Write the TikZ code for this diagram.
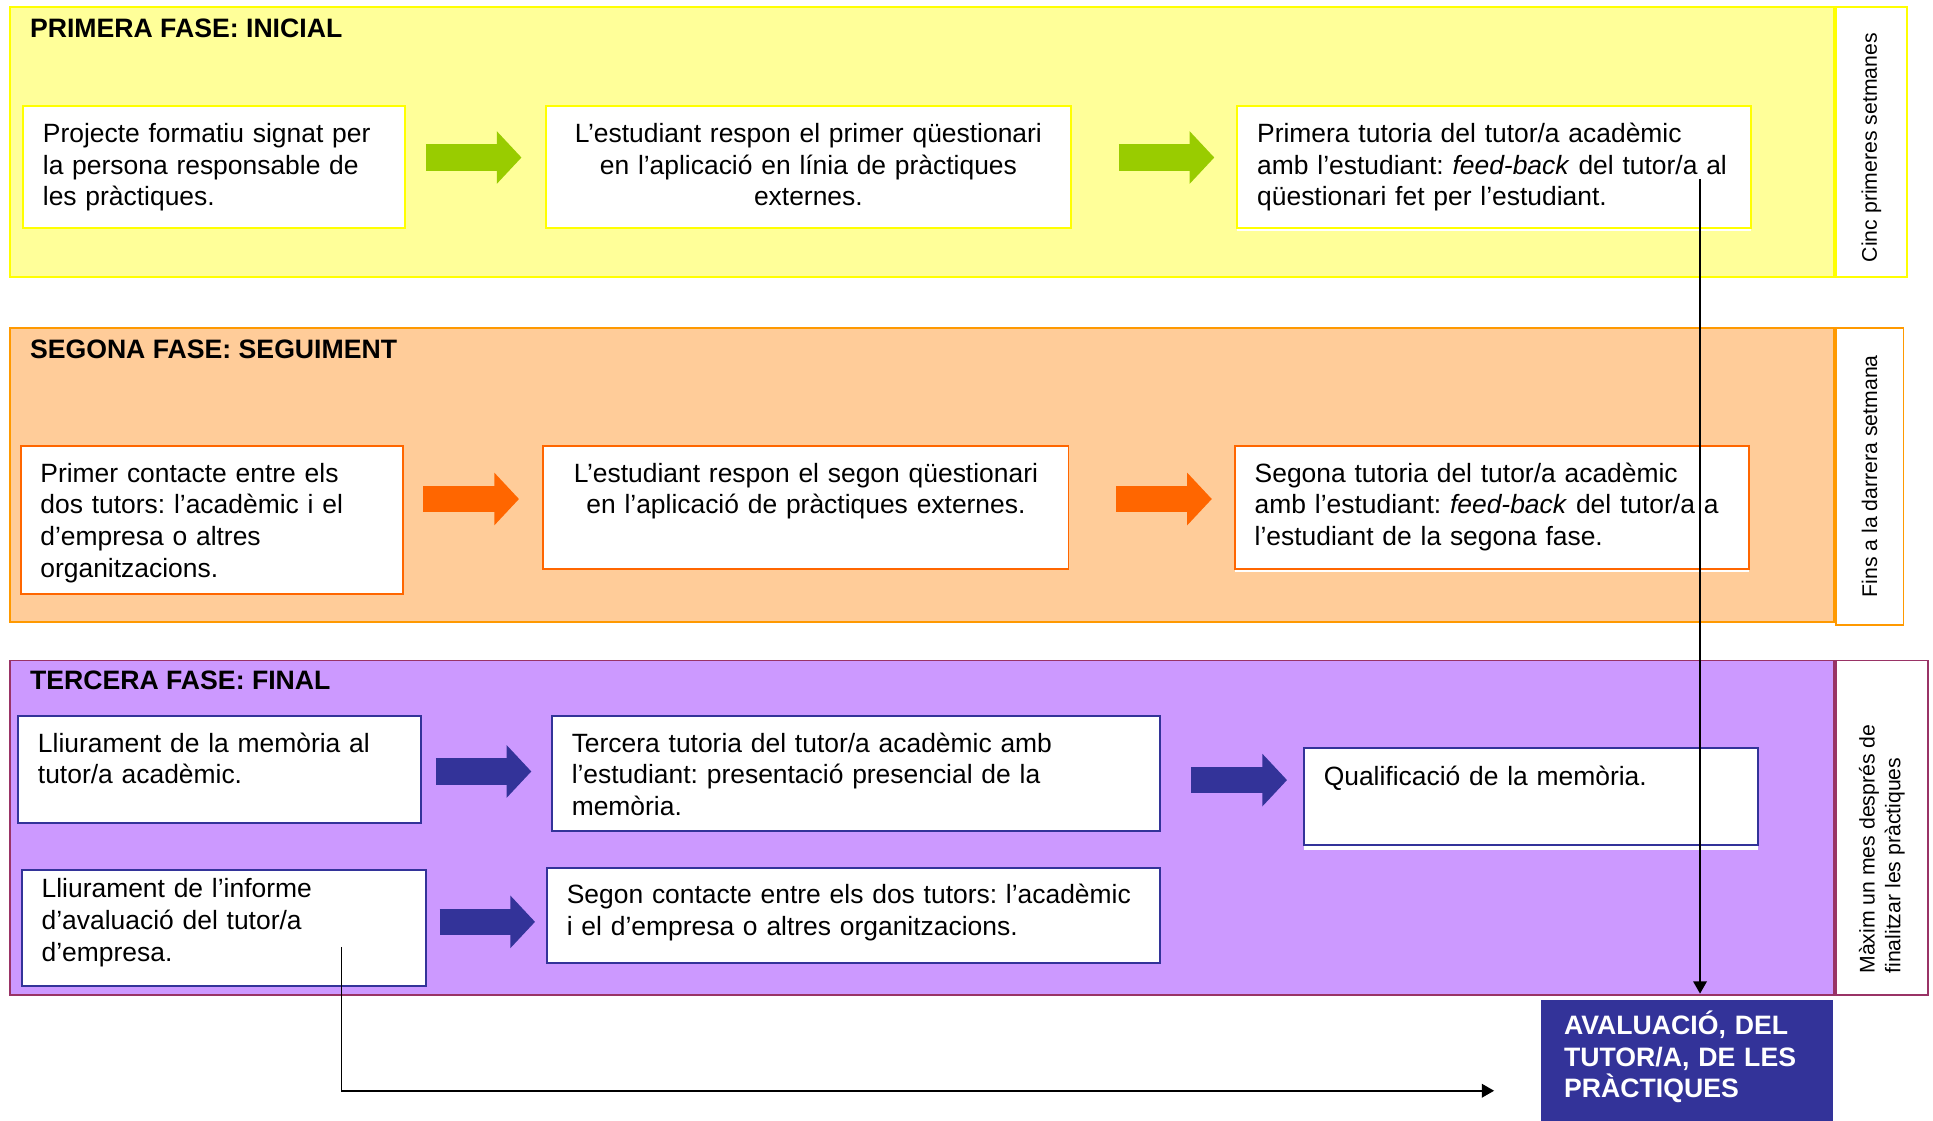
\documentclass[tikz,border=0pt]{standalone}
\usepackage{fontspec}
\setmainfont{Liberation Sans}
\usetikzlibrary{arrows.meta,positioning,shadows}
\definecolor{grocfons}{HTML}{FFFF99}
\definecolor{groc}{HTML}{FFFF00}
\definecolor{taronjafons}{HTML}{FFCC99}
\definecolor{taronjavora}{HTML}{FF9900}
\definecolor{taronja}{HTML}{FF6600}
\definecolor{lilafons}{HTML}{CC99FF}
\definecolor{granat}{HTML}{993366}
\definecolor{blaufosc}{HTML}{333399}
\definecolor{verd}{HTML}{99CC00}
\frenchspacing
\tikzset{%
	fase/.style    = {draw, line width=0.9pt, anchor=north west, inner sep=0pt, minimum width=29.6cm},
	lateral/.style = {draw, fill=white, line width=0.9pt, anchor=north west, inner sep=0pt},
	rotul/.style   = {rotate=90, align=left, font=\fontsize{9.8}{11.9}\selectfont},
	titol/.style   = {anchor=west, inner sep=0pt, font=\bfseries\fontsize{12.3}{14.6}\selectfont},
	caixa/.style   = {draw=#1, fill=white, line width=0.9pt, anchor=north west, inner xsep=0.32cm, inner ysep=0pt, align=left, font=\fontsize{12.2}{14.6}\selectfont},
	ombra/.style   = {drop shadow={shadow xshift=0pt, shadow yshift=-#1, fill=white, opacity=1}},
	bloc/.style    = {draw=#1, line width=0.43cm, -{Triangle[length=0.40cm,width=0.83cm]}},
	fletxa/.style  = {line width=0.85pt, -{Triangle[length=0.2cm,width=0.22cm]}},
}

\begin{document}
\begin{tikzpicture}[x=0.02cm, y=-0.02cm]
	\useasboundingbox (0,0) rectangle (1568,909);
	
	% fases
	\node[fase, fill=grocfons, draw=groc, minimum height=4.38cm] (f1) at (7,5) {};
	\node[fase, fill=taronjafons, draw=taronjavora, minimum height=4.78cm] (f2) at (7,265) {};
	\node[fase, fill=lilafons, draw=granat, minimum height=5.42cm] (f3) at (7,535) {};
	
	\node[lateral, draw=groc, minimum width=1.16cm, minimum height=4.38cm] (l1) at (f1.north east) {};
	\node[lateral, draw=taronjavora, minimum width=1.1cm, minimum height=4.82cm] (l2) at (f2.north east) {};
	\node[lateral, draw=granat, minimum width=1.5cm, minimum height=5.42cm] (l3) at (f3.north east) {};
	
	\node[rotul] (r1) at ([yshift=-0.09cm]l1.center) {Cinc primeres setmanes};
	\node[rotul] (r2) at (l2.center) {Fins a la darrera setmana};
	\node[rotul] (r3) at ([yshift=-0.35cm]l3.center) {Màxim un mes després de\\finalitzar les pràctiques};
	
	\node[titol] (t1) at ([xshift=0.34cm,yshift=-0.36cm]f1.north west) {PRIMERA FASE: INICIAL};
	\node[titol] (t2) at ([xshift=0.34cm,yshift=-0.36cm]f2.north west) {SEGONA FASE: SEGUIMENT};
	\node[titol] (t3) at ([xshift=0.34cm,yshift=-0.34cm]f3.north west) {TERCERA FASE: FINAL};
	
	% caixes
	\node[caixa=groc, text width=5.56cm, text height=0.60cm, text depth=1.38cm] (b1) at (18,85) {Projecte formatiu signat per\\la persona responsable de\\les pràctiques.};
	\node[caixa=groc, align=center, text width=7.88cm, text height=0.60cm, text depth=1.38cm] (b2) at (442,85) {L’estudiant respon el primer qüestionari\\en l’aplicació en línia de pràctiques\\externes.};
	\node[caixa=groc, ombra=0.05cm, text width=7.70cm, text height=0.60cm, text depth=1.38cm] (b3) at (1003,85) {Primera tutoria del tutor/a acadèmic\\amb l’estudiant: \textit{feed-back} del tutor/a al\\qüestionari fet per l’estudiant.};
	
	\node[caixa=taronja, text width=5.56cm, text height=0.59cm, text depth=1.81cm] (b4) at (16,361) {Primer contacte entre els\\dos tutors: l’acadèmic i el\\d’empresa o altres\\organitzacions.};
	\node[caixa=taronja, align=center, text width=7.88cm, text height=0.59cm, text depth=1.41cm] (b5) at (440,361) {L’estudiant respon el segon qüestionari\\en l’aplicació de pràctiques externes.};
	\node[caixa=taronja, ombra=0.05cm, text width=7.70cm, text height=0.59cm, text depth=1.41cm] (b6) at (1001,361) {Segona tutoria del tutor/a acadèmic\\amb l’estudiant: \textit{feed-back} del tutor/a a\\l’estudiant de la segona fase.};
	
	\node[caixa=blaufosc, text width=5.90cm, text height=0.59cm, text depth=1.15cm] (b7) at (14,580) {Lliurament de la memòria al\\tutor/a acadèmic.};
	\node[caixa=blaufosc, text width=9.22cm, text height=0.59cm, text depth=1.27cm] (b8) at (447,580) {Tercera tutoria del tutor/a acadèmic amb\\l’estudiant: presentació presencial de la\\memòria.};
	\node[caixa=blaufosc, ombra=0.08cm, text width=6.72cm, text height=0.61cm, text depth=0.97cm] (b9) at (1057,606) {Qualificació de la memòria.};
	\node[caixa=blaufosc, text width=5.92cm, text height=0.45cm, text depth=1.43cm] (b10) at (17,705) {Lliurament de l’informe\\d’avaluació del tutor/a\\d’empresa.};
	\node[caixa=blaufosc, text width=9.30cm, text height=0.59cm, text depth=0.95cm] (b11) at (443,703) {Segon contacte entre els dos tutors: l’acadèmic\\i el d’empresa o altres organitzacions.};
	
	\node[caixa=blaufosc, fill=blaufosc, text=white, font=\bfseries\fontsize{12.3}{14.6}\selectfont, inner xsep=0.36cm, text width=3.98cm, text height=0.55cm, text depth=1.41cm] (final) at (1250,811) {AVALUACIÓ, DEL\\TUTOR/A, DE LES\\PRÀCTIQUES};
	
	% fletxes
	\foreach \a/\b/\dy/\s/\e/\c in {b1/b2/0.15/0.32/0.38/verd, b2/b3/0.15/0.76/0.36/verd, b4/b5/0.34/0.32/0.38/taronja, b5/b6/0.14/0.76/0.36/taronja, b7/b8/-0.03/0.22/0.32/blaufosc, b8/b9/-0.11/0.50/0.26/blaufosc, b10/b11/0.10/0.20/0.18/blaufosc}
		\draw[bloc=\c, shorten <=\s cm, shorten >=\e cm] ([yshift=\dy cm]\a.east) -- ([yshift=\dy cm]\a.east -| \b.west);
	
	\coordinate (c1) at (1379,145);
	\coordinate (c2) at (277,768);
	\draw[fletxa] (c1) -- ([yshift=0.1cm]c1 |- final.north);
	\draw[fletxa] (c2) |- ([xshift=-0.76cm,yshift=-0.48cm]final.west);
\end{tikzpicture}
\end{document}
